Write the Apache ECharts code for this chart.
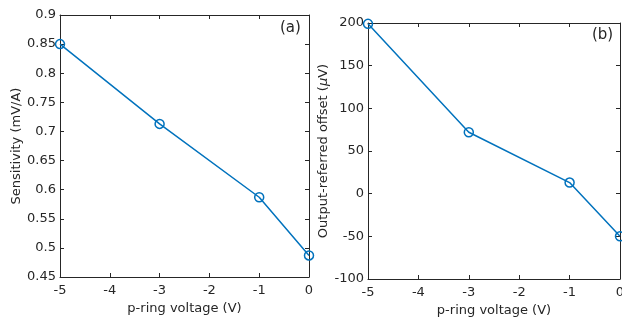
<!DOCTYPE html>
<html>
<head>
<meta charset="utf-8">
<script src="https://cdn.jsdelivr.net/npm/echarts@6/dist/echarts.min.js"></script>
<style>
  html, body { margin: 0; padding: 0; background: #fff; }
  #chart { width: 622px; height: 320px; }
</style>
</head>
<body>
<div id="chart"></div>
<script>
// p-ring voltage (V)
const voltages = [-5, -3, -1, 0];
// (a) sensitivity, mV/A
const sensitivity = [0.85, 0.713, 0.587, 0.487];
// (b) output-referred offset, uV
const offset = [199, 72, 13, -50];

const blue = '#0072BD';
const ink = '#262626';
const font = 'DejaVu Sans';
const fs = 13;

const chart = echarts.init(document.getElementById('chart'));

// shared axis look (MATLAB box with inward ticks)
const axisBase = {
  axisLine: { show: true, onZero: false, lineStyle: { color: ink, width: 1 } },
  axisTick: { show: true, inside: true, length: 4, lineStyle: { color: ink } },
  splitLine: { show: false },
  axisLabel: { color: ink, fontFamily: font, fontSize: fs }
};

function xAx(grid, pos, labels) {
  return Object.assign({}, axisBase, {
    type: 'value', gridIndex: grid, position: pos,
    min: -5, max: 0, interval: 1,
    axisLabel: Object.assign({}, axisBase.axisLabel, { show: labels, margin: 7 }),
    name: labels ? 'p-ring voltage (V)' : '',
    nameLocation: 'middle', nameGap: 24,
    nameTextStyle: { color: ink, fontFamily: font, fontSize: fs }
  });
}

function yAx(grid, pos, labels, min, max, interval, name, gap, fmt) {
  return Object.assign({}, axisBase, {
    type: 'value', gridIndex: grid, position: pos,
    min: min, max: max, interval: interval,
    axisLabel: Object.assign({}, axisBase.axisLabel, { show: labels, margin: 4, formatter: fmt }),
    name: labels ? name : '',
    nameLocation: 'middle', nameGap: gap,
    nameTextStyle: { color: ink, fontFamily: font, fontSize: fs, rich: { i: { fontStyle: 'italic', fontFamily: font, fontSize: fs, color: ink } } }
  });
}

function pairs(ys) {
  return voltages.map((v, i) => [v, ys[i]]);
}

const seriesStyle = {
  type: 'line',
  symbol: 'circle',
  symbolSize: 9,
  clip: false,
  lineStyle: { color: blue, width: 1.5 },
  itemStyle: { color: 'rgba(255,255,255,0)', borderColor: blue, borderWidth: 1.5 },
  emphasis: { disabled: true }
};

const option = {
  animation: false,
  grid: [
    { left: 60, top: 15, width: 249, height: 262, outerBoundsMode: 'none' },
    { left: 368, top: 23, width: 252, height: 256, outerBoundsMode: 'none' }
  ],
  xAxis: [
    xAx(0, 'bottom', true),
    xAx(0, 'top', false),
    xAx(1, 'bottom', true),
    xAx(1, 'top', false)
  ],
  yAxis: [
    yAx(0, 'left', true, 0.45, 0.9, 0.05, 'Sensitivity (mV/A)', 35,
      v => String(Math.round(v * 100) / 100)),
    yAx(0, 'right', false, 0.45, 0.9, 0.05, '', 0),
    yAx(1, 'left', true, -100, 200, 50, 'Output-referred offset ({i|μ}V)', 37),
    yAx(1, 'right', false, -100, 200, 50, '', 0)
  ],
  graphic: [
    { type: 'text', left: 280, top: 21, style: { text: '(a)', fill: ink, font: '15px "DejaVu Sans"' } },
    { type: 'text', left: 592, top: 28, style: { text: '(b)', fill: ink, font: '15px "DejaVu Sans"' } }
  ],
  series: [
    Object.assign({}, seriesStyle, { xAxisIndex: 0, yAxisIndex: 0, data: pairs(sensitivity) }),
    Object.assign({}, seriesStyle, { xAxisIndex: 2, yAxisIndex: 2, data: pairs(offset) })
  ]
};

chart.setOption(option);
</script>
</body>
</html>
